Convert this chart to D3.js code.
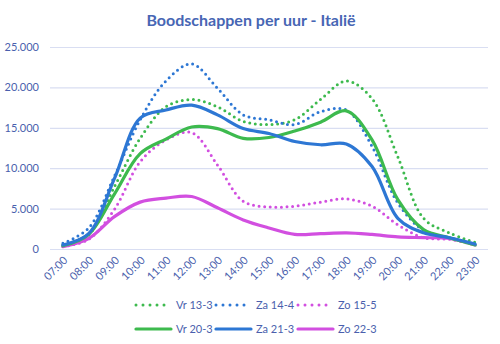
<!DOCTYPE html>
<html>
<head>
<meta charset="utf-8">
<script src="https://cdn.jsdelivr.net/npm/d3@7"></script>
<style>
  html, body { margin: 0; padding: 0; background: #fff; }
  svg { display: block; font-family: Lato, "Open Sans", sans-serif; }
</style>
</head>
<body>
<svg id="chart" width="500" height="344"></svg>
<script>
// Hours of the day on the x axis
const hours = ["07:00","08:00","09:00","10:00","11:00","12:00","13:00","14:00",
               "15:00","16:00","17:00","18:00","19:00","20:00","21:00","22:00","23:00"];

// Shopping sessions per hour, one array per day
const vr13_3 = [500, 1800, 7700, 13700, 17600, 18500, 17600, 15800, 15400, 16000, 18500, 20800, 18600, 11400, 3800, 2000, 800];
const za14_4 = [700, 2600, 9000, 16000, 20800, 22900, 19900, 16600, 16000, 15400, 17000, 17200, 12700, 5700, 2300, 1400, 600];
const zo15_5 = [300, 1200, 4900, 10800, 13500, 14400, 10400, 5900, 5200, 5300, 5800, 6200, 5300, 3000, 1400, 1200, 500];
const vr20_3 = [400, 1800, 6800, 11800, 13600, 15100, 14900, 13700, 13800, 14600, 15700, 17100, 13500, 6100, 2400, 1400, 500];
const za21_3 = [500, 1900, 8700, 16200, 17200, 17800, 16600, 14900, 14300, 13300, 12900, 13000, 10200, 3800, 2000, 1400, 600];
const zo22_3 = [300, 1300, 4000, 5800, 6300, 6500, 5100, 3600, 2600, 1800, 1900, 2000, 1800, 1500, 1400, 1300, 500];

// Y axis tick values and their labels
const yTicks = [0, 5000, 10000, 15000, 20000, 25000];
const yTickLabels = ["0", "5.000", "10.000", "15.000", "20.000", "25.000"];

const series = [
  { name: "Vr 13-3", values: vr13_3, color: "#3dba4e", dotted: true },
  { name: "Za 14-4", values: za14_4, color: "#2d77d4", dotted: true },
  { name: "Zo 15-5", values: zo15_5, color: "#d24fe0", dotted: true },
  { name: "Vr 20-3", values: vr20_3, color: "#3dba4e", dotted: false },
  { name: "Za 21-3", values: za21_3, color: "#2d77d4", dotted: false },
  { name: "Zo 22-3", values: zo22_3, color: "#d24fe0", dotted: false }
];

const textColor = "#4a5fad";
const gridColor = "#d9def2";

const svg = d3.select("#chart");
const margin = { left: 50, right: 12, top: 47, bottom: 95 };
const W = 500, H = 344;

const x = d3.scalePoint()
  .domain(hours)
  .range([margin.left, W - margin.right])
  .padding(0.5);

const y = d3.scaleLinear()
  .domain([0, 25000])
  .range([H - margin.bottom, margin.top]);

// Title
svg.append("text")
  .attr("x", 251)
  .attr("y", 26)
  .attr("text-anchor", "middle")
  .attr("font-size", 16)
  .attr("font-weight", "bold")
  .attr("fill", "#4766b4")
  .text("Boodschappen per uur - Italië");

// Horizontal gridlines and y labels
const yAxis = d3.axisLeft(y)
  .tickValues(yTicks)
  .tickFormat((d, i) => yTickLabels[i])
  .tickSize(-(W - margin.left - margin.right))
  .tickPadding(11);

const gy = svg.append("g")
  .attr("transform", `translate(${margin.left},0)`)
  .call(yAxis);
gy.select(".domain").remove();
gy.selectAll(".tick line").attr("stroke", gridColor).attr("stroke-width", 1.2);
gy.selectAll(".tick text")
  .attr("fill", textColor)
  .attr("font-size", 11)
  .attr("font-family", "Lato, sans-serif");

// X axis with rotated hour labels
const xAxis = d3.axisBottom(x).tickSize(0).tickPadding(0);
const gx = svg.append("g")
  .attr("transform", `translate(0,${y(0)})`)
  .call(xAxis);
gx.select(".domain").remove();
gx.selectAll(".tick text")
  .attr("fill", textColor)
  .attr("font-size", 11)
  .attr("font-family", "Lato, sans-serif")
  .attr("text-anchor", "end")
  .attr("dy", 0)
  .attr("transform", "translate(5,12) rotate(-45)");

// Smoothed lines
const line = d3.line()
  .x((d, i) => x(hours[i]))
  .y(d => y(d))
  .curve(d3.curveCatmullRom.alpha(0.5));

const drawOrder = [2, 0, 1, 5, 3, 4];
drawOrder.forEach(k => {
  const s = series[k];
  const p = svg.append("path")
    .datum(s.values)
    .attr("d", line)
    .attr("fill", "none")
    .attr("stroke", s.color)
    .attr("stroke-linejoin", "round")
    .attr("stroke-linecap", "round");
  if (s.dotted) {
    p.attr("stroke-width", 3).attr("stroke-dasharray", "0 5.6");
  } else {
    p.attr("stroke-width", 3.2);
  }
});

// Legend: two rows of three entries
const legendX = [134, 214, 296];
const legendY = [305, 329];
series.forEach((s, i) => {
  const col = i % 3, row = Math.floor(i / 3);
  const g = svg.append("g").attr("transform", `translate(${legendX[col]},${legendY[row]})`);
  const l = g.append("line")
    .attr("x1", 2).attr("x2", 37)
    .attr("y1", 0).attr("y2", 0)
    .attr("stroke", s.color)
    .attr("stroke-linecap", "round");
  if (s.dotted) {
    l.attr("stroke-width", 3).attr("stroke-dasharray", "0 7");
  } else {
    l.attr("stroke-width", 3.2);
  }
  g.append("text")
    .attr("x", 42)
    .attr("y", 0)
    .attr("dy", "0.35em")
    .attr("font-size", 11)
    .attr("fill", textColor)
    .text(s.name);
});
</script>
</body>
</html>
